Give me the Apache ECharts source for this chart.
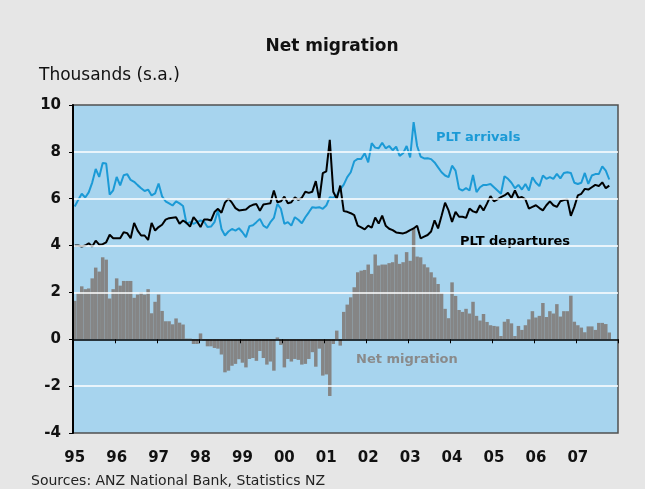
<!DOCTYPE html>
<html>
<head>
<meta charset="utf-8">
<title>Net migration</title>
<script src="https://cdn.jsdelivr.net/npm/echarts@6/dist/echarts.min.js"></script>
<style>
	* { margin: 0; padding: 0; }
	body { background: #e6e6e6; }
	#main { width: 645px; height: 489px; }
</style>
</head>
<body>
<div id="main"></div>
<script>
	// years shown on the x axis (monthly data, Jan 1995 - Oct 2007)
	let years = ['95', '96', '97', '98', '99', '00', '01', '02', '03', '04', '05', '06', '07'];
	let monthNames = ['01', '02', '03', '04', '05', '06', '07', '08', '09', '10', '11', '12'];

	// PLT arrivals, thousands s.a.
	let arrivals = [
		5.67, 5.95, 6.21, 6.05, 6.27, 6.69, 7.27, 6.93, 7.52, 7.50, 6.17, 6.36,
		6.93, 6.57, 7.00, 7.05, 6.80, 6.72, 6.58, 6.45, 6.33, 6.39, 6.14, 6.23,
		6.65, 6.10, 5.89, 5.80, 5.71, 5.89, 5.80, 5.69, 4.93, 5.00, 4.93, 5.00,
		5.07, 5.03, 4.79, 4.81, 5.00, 5.50, 4.71, 4.43, 4.60, 4.71, 4.64, 4.74,
		4.57, 4.36, 4.83, 4.87, 5.00, 5.14, 4.85, 4.75, 5.00, 5.18, 5.78, 5.57,
		4.93, 5.00, 4.85, 5.21, 5.10, 4.95, 5.21, 5.42, 5.64, 5.61, 5.64, 5.57,
		5.71, 6.06, 6.04, 6.14, 6.40, 6.60, 6.92, 7.13, 7.60, 7.70, 7.70, 7.94,
		7.55, 8.37, 8.18, 8.15, 8.39, 8.15, 8.25, 8.07, 8.22, 7.83, 7.94, 8.25,
		7.76, 9.27, 8.25, 7.80, 7.72, 7.73, 7.69, 7.55, 7.34, 7.13, 6.99, 6.92,
		7.41, 7.20, 6.42, 6.35, 6.45, 6.35, 7.01, 6.28, 6.49, 6.59, 6.59, 6.63,
		6.49, 6.35, 6.21, 6.96, 6.85, 6.68, 6.45, 6.59, 6.39, 6.63, 6.35, 6.92,
		6.68, 6.54, 6.99, 6.85, 6.92, 6.85, 7.06, 6.87, 7.10, 7.13, 7.10, 6.68,
		6.63, 6.68, 7.10, 6.63, 6.99, 7.05, 7.05, 7.38, 7.20, 6.82
	];

	// PLT departures, thousands s.a.
	let departures = [
		4.00, 4.00, 3.96, 4.00, 4.10, 3.96, 4.21, 4.04, 4.06, 4.14, 4.46, 4.31,
		4.31, 4.31, 4.57, 4.53, 4.31, 4.97, 4.64, 4.43, 4.43, 4.24, 4.97, 4.64,
		4.79, 4.89, 5.11, 5.17, 5.19, 5.21, 4.93, 5.07, 4.97, 4.81, 5.21, 5.03,
		4.79, 5.11, 5.11, 5.07, 5.43, 5.57, 5.40, 5.83, 6.00, 5.83, 5.60, 5.50,
		5.52, 5.54, 5.67, 5.74, 5.77, 5.49, 5.75, 5.78, 5.81, 6.35, 5.85, 5.89,
		6.09, 5.81, 5.85, 6.06, 5.95, 6.04, 6.30, 6.25, 6.30, 6.75, 5.95, 7.09,
		7.17, 8.51, 6.30, 6.00, 6.56, 5.47, 5.44, 5.38, 5.30, 4.85, 4.78, 4.69,
		4.85, 4.76, 5.20, 4.94, 5.28, 4.85, 4.72, 4.66, 4.56, 4.54, 4.52, 4.57,
		4.66, 4.73, 4.85, 4.31, 4.38, 4.45, 4.60, 5.08, 4.73, 5.27, 5.83, 5.50,
		5.01, 5.44, 5.23, 5.23, 5.18, 5.58, 5.46, 5.41, 5.72, 5.50, 5.79, 6.11,
		5.89, 5.97, 6.07, 6.14, 6.25, 6.03, 6.35, 6.03, 6.07, 5.97, 5.58, 5.65,
		5.72, 5.60, 5.50, 5.72, 5.89, 5.72, 5.65, 5.89, 5.94, 5.97, 5.27, 5.65,
		6.14, 6.21, 6.42, 6.39, 6.49, 6.59, 6.54, 6.70, 6.45, 6.56
	];

	// net migration, thousands s.a.
	let netMigration = [
		1.64, 1.96, 2.26, 2.14, 2.17, 2.60, 3.06, 2.89, 3.50, 3.40, 1.74, 2.14,
		2.60, 2.29, 2.49, 2.49, 2.49, 1.77, 1.91, 2.00, 1.91, 2.14, 1.11, 1.60,
		1.91, 1.21, 0.77, 0.77, 0.64, 0.89, 0.71, 0.63, 0.03, 0.03, -0.20, -0.20,
		0.25, -0.05, -0.30, -0.30, -0.37, -0.40, -0.65, -1.41, -1.34, -1.13, -1.05, -0.85,
		-1.00, -1.20, -0.84, -0.80, -0.92, -0.50, -0.80, -1.08, -0.95, -1.34, 0.08, -0.24,
		-1.20, -0.84, -0.95, -0.84, -0.88, -1.08, -1.05, -0.84, -0.55, -1.17, -0.40, -1.55,
		-1.50, -2.42, -0.20, 0.37, -0.27, 1.17, 1.48, 1.79, 2.22, 2.86, 2.93, 2.96,
		3.19, 2.79, 3.62, 3.15, 3.19, 3.19, 3.25, 3.29, 3.62, 3.22, 3.29, 3.72,
		3.35, 4.71, 3.53, 3.50, 3.20, 3.07, 2.86, 2.64, 2.36, 1.97, 1.30, 0.90,
		2.43, 1.85, 1.25, 1.17, 1.30, 1.10, 1.60, 1.00, 0.80, 1.08, 0.74, 0.60,
		0.57, 0.55, 0.14, 0.75, 0.86, 0.68, 0.14, 0.57, 0.40, 0.60, 0.85, 1.20,
		0.93, 1.00, 1.55, 0.95, 1.20, 1.10, 1.50, 0.97, 1.20, 1.20, 1.86, 0.75,
		0.60, 0.50, 0.30, 0.55, 0.55, 0.40, 0.70, 0.70, 0.65, 0.29
	];

	let yMin = -4, yMax = 10, yStep = 2;

	let months = [];
	years.forEach((y) => {
		monthNames.forEach((m) => months.push(y + '-' + m));
	});

	let myChart = echarts.init(document.getElementById('main'));
	let font = 'DejaVu Sans';

	// white grid lines at -2,2,4,6,8 only (border at -4/10, zero line at 0)
	let gridColors = ['rgba(0,0,0,0)', '#ffffff', 'rgba(0,0,0,0)', '#ffffff', '#ffffff', '#ffffff', '#ffffff', 'rgba(0,0,0,0)'];

	let option = {
		backgroundColor: '#e6e6e6',
		animation: false,
		grid: {
			left: 73,
			right: 27,
			top: 105,
			bottom: 56,
			show: true,
			backgroundColor: '#a7d4ee',
			borderColor: '#505050',
			borderWidth: 1.5
		},
		xAxis: [{
			type: 'category',
			data: months,
			z: 5,
			axisLine: {
				onZero: true,
				lineStyle: { color: '#000', width: 1.5 }
			},
			axisTick: {
				show: true,
				length: 4,
				interval: (i) => i % 12 === 0,
				lineStyle: { color: '#000', width: 1 }
			},
			axisLabel: { show: false },
			splitLine: { show: false }
		}, {
			type: 'category',
			data: months,
			position: 'bottom',
			axisLine: { show: false, onZero: false },
			axisTick: { show: false },
			axisLabel: {
				interval: (i) => i % 12 === 0,
				formatter: (v) => v.slice(0, 2),
				margin: 18,
				color: '#111',
				fontFamily: font,
				fontWeight: 'bold',
				fontSize: 15
			},
			splitLine: { show: false }
		}],
		yAxis: {
			type: 'value',
			min: yMin,
			max: yMax,
			interval: yStep,
			z: 5,
			axisLine: {
				show: true,
				lineStyle: { color: '#000', width: 2 }
			},
			axisTick: {
				show: true,
				length: 4,
				lineStyle: { color: '#000' }
			},
			axisLabel: {
				margin: 12,
				color: '#111',
				fontFamily: font,
				fontWeight: 'bold',
				fontSize: 15
			},
			splitLine: {
				show: true,
				lineStyle: { color: gridColors, width: 1.5 }
			}
		},
		series: [{
			name: 'Net migration',
			type: 'bar',
			data: netMigration,
			barCategoryGap: '0%',
			itemStyle: { color: '#858585' }
		}, {
			name: 'PLT arrivals',
			type: 'line',
			data: arrivals,
			symbol: 'none',
			lineStyle: { color: '#1b9ad6', width: 2 }
		}, {
			name: 'PLT departures',
			type: 'line',
			data: departures,
			symbol: 'none',
			lineStyle: { color: '#000', width: 2 }
		}],
		graphic: [{
			type: 'text',
			style: { x: 332, y: 38, text: 'Net migration', textAlign: 'center', fill: '#111', font: 'bold 17px "DejaVu Sans"' }
		}, {
			type: 'text',
			style: { x: 39, y: 67, text: 'Thousands (s.a.)', fill: '#111', font: '17px "DejaVu Sans"' }
		}, {
			type: 'text',
			style: { x: 436, y: 131, text: 'PLT arrivals', fill: '#1b9ad6', font: 'bold 13px "DejaVu Sans"' }
		}, {
			type: 'text',
			style: { x: 460, y: 235, text: 'PLT departures', fill: '#000', font: 'bold 13px "DejaVu Sans"' }
		}, {
			type: 'text',
			style: { x: 356, y: 353, text: 'Net migration', fill: '#8a8a8a', font: 'bold 13px "DejaVu Sans"' }
		}, {
			type: 'text',
			style: { x: 31, y: 474, text: 'Sources: ANZ National Bank, Statistics NZ', fill: '#222', font: '14px "DejaVu Sans"' }
		}]
	};
	myChart.setOption(option);
</script>
</body>
</html>
